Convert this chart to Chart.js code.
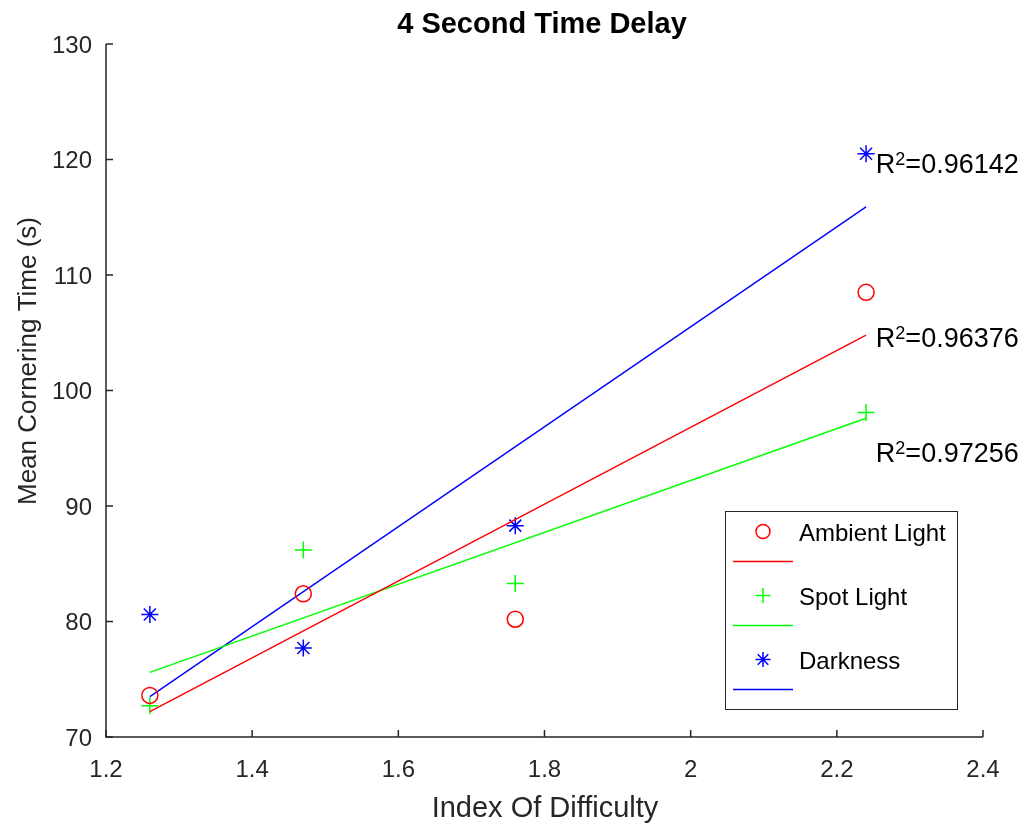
<!DOCTYPE html>
<html>
<head>
<meta charset="utf-8">
<script src="https://cdn.jsdelivr.net/npm/chart.js@4.4.1/dist/chart.umd.min.js"></script>
<style>
html,body{margin:0;padding:0;background:#fff;}
#wrap{width:1026px;height:826px;position:relative;}
</style>
</head>
<body>
<div id="wrap"><canvas id="c" width="1026" height="826"></canvas></div>
<script>
// ---- data ----
const indexOfDifficulty = [1.26, 1.47, 1.76, 2.24];
const ambientLight = [73.6, 82.4, 80.2, 108.5];
const spotLight = [72.7, 86.2, 83.3, 98.1];
const darkness = [80.6, 77.7, 88.3, 120.5];
// fitted line end points
const fitX = [1.26, 2.24];
const ambientFit = [72.2, 104.8];
const spotFit = [75.6, 97.6];
const darknessFit = [73.5, 115.9];
// R^2 labels (anchor = left edge / baseline, in data units)
const r2Labels = ['0.96142', '0.96376', '0.97256'];
const r2LabelX = [2.2534, 2.2534, 2.2534];
const r2LabelY = [118.8, 103.8, 93.8];
const xTicks = [1.2, 1.4, 1.6, 1.8, 2, 2.2, 2.4];
const xTickLabels = ['1.2', '1.4', '1.6', '1.8', '2', '2.2', '2.4'];
const yTicks = [70, 80, 90, 100, 110, 120, 130];
const yTickLabels = ['70', '80', '90', '100', '110', '120', '130'];
const legendLabels = ['Ambient Light', 'Spot Light', 'Darkness'];

const RED = '#ff0000', GREEN = '#00ff00', BLUE = '#0000ff';
const AX = '#262626';
const FONT = '"Liberation Sans", Arial, Helvetica, sans-serif';

const pts = (xs, ys) => xs.map((x, i) => ({x: x, y: ys[i]}));

const datasets = [
  {label: 'Ambient Light', type: 'scatter', data: pts(indexOfDifficulty, ambientLight), pointStyle: 'circle', pointRadius: 8, borderColor: RED, backgroundColor: 'rgba(0,0,0,0)', pointBorderWidth: 1.5, showLine: false},
  {label: 'Ambient fit', type: 'line', data: pts(fitX, ambientFit), borderColor: RED, borderWidth: 1.4, pointRadius: 0, fill: false},
  {label: 'Spot Light', type: 'scatter', data: pts(indexOfDifficulty, spotLight), pointStyle: 'cross', pointRadius: 8.5, borderColor: GREEN, backgroundColor: GREEN, pointBorderWidth: 1.5, showLine: false},
  {label: 'Spot fit', type: 'line', data: pts(fitX, spotFit), borderColor: GREEN, borderWidth: 1.4, pointRadius: 0, fill: false},
  {label: 'Darkness', type: 'scatter', data: pts(indexOfDifficulty, darkness), pointStyle: 'star', pointRadius: 8.5, borderColor: BLUE, backgroundColor: BLUE, pointBorderWidth: 1.5, showLine: false},
  {label: 'Darkness fit', type: 'line', data: pts(fitX, darknessFit), borderColor: BLUE, borderWidth: 1.4, pointRadius: 0, fill: false}
];

const decor = {
  id: 'decor',
  afterDraw(chart) {
    const ctx = chart.ctx;
    const xs = chart.scales.x, ys = chart.scales.y;
    const a = chart.chartArea;
    ctx.save();
    // axes lines
    ctx.strokeStyle = AX; ctx.lineWidth = 1.5;
    ctx.beginPath();
    ctx.moveTo(a.left, a.top); ctx.lineTo(a.left, a.bottom); ctx.lineTo(a.right, a.bottom);
    ctx.stroke();
    // inward ticks
    ctx.beginPath();
    xTicks.forEach(v => { const px = xs.getPixelForValue(v); ctx.moveTo(px, a.bottom); ctx.lineTo(px, a.bottom - 7); });
    yTicks.forEach(v => { const py = ys.getPixelForValue(v); ctx.moveTo(a.left, py); ctx.lineTo(a.left + 7, py); });
    ctx.stroke();
    // tick labels
    ctx.fillStyle = AX;
    ctx.font = '24px ' + FONT;
    ctx.textAlign = 'center'; ctx.textBaseline = 'alphabetic';
    xTicks.forEach((v, i) => ctx.fillText(xTickLabels[i], xs.getPixelForValue(v), a.bottom + 40));
    ctx.textAlign = 'right';
    yTicks.forEach((v, i) => ctx.fillText(yTickLabels[i], a.left - 14, ys.getPixelForValue(v) + 8.5));
    // axis titles
    ctx.font = '29px ' + FONT;
    ctx.textAlign = 'center'; ctx.textBaseline = 'alphabetic';
    ctx.fillText('Index Of Difficulty', 545, 817);
    ctx.save();
    ctx.font = '26px ' + FONT;
    ctx.translate(36, 361);
    ctx.rotate(-Math.PI / 2);
    ctx.fillText('Mean Cornering Time (s)', 0, 0);
    ctx.restore();
    // title
    ctx.fillStyle = '#000';
    ctx.font = 'bold 29px ' + FONT;
    ctx.textAlign = 'center';
    ctx.fillText('4 Second Time Delay', 542, 33);
    // R^2 labels
    r2Labels.forEach((t, i) => {
      let px = xs.getPixelForValue(r2LabelX[i]);
      const py = ys.getPixelForValue(r2LabelY[i]);
      ctx.textAlign = 'left'; ctx.textBaseline = 'alphabetic';
      ctx.fillStyle = '#000';
      ctx.font = '27px ' + FONT;
      ctx.fillText('R', px, py);
      px += ctx.measureText('R').width;
      ctx.font = '18px ' + FONT;
      ctx.fillText('2', px, py - 8);
      px += ctx.measureText('2').width;
      ctx.font = '27px ' + FONT;
      ctx.fillText('=' + t, px, py);
    });
    // legend box
    const lx = 725, ly = 511, lw = 232, lh = 198;
    ctx.fillStyle = '#fff';
    ctx.fillRect(lx, ly, lw, lh);
    ctx.strokeStyle = AX; ctx.lineWidth = 1;
    ctx.strokeRect(lx + 0.5, ly + 0.5, lw, lh);
    const colors = [RED, GREEN, BLUE];
    const styles = ['circle', 'cross', 'star'];
    legendLabels.forEach((lab, i) => {
      const cy = 531.5 + i * 64;
      ctx.strokeStyle = colors[i];
      ctx.fillStyle = i === 0 ? 'rgba(0,0,0,0)' : colors[i];
      ctx.lineWidth = 1.5;
      Chart.helpers.drawPoint(ctx, {pointStyle: styles[i], radius: i === 0 ? 7 : 7.5, borderWidth: 1.5, rotation: 0}, 763, cy);
      ctx.beginPath();
      ctx.moveTo(733, cy + 30); ctx.lineTo(793, cy + 30);
      ctx.stroke();
      ctx.fillStyle = '#000';
      ctx.font = '24px ' + FONT;
      ctx.textAlign = 'left'; ctx.textBaseline = 'alphabetic';
      ctx.fillText(lab, 799, cy + 9.5);
    });
    ctx.restore();
  }
};

new Chart(document.getElementById('c'), {
  type: 'scatter',
  data: {datasets: datasets},
  options: {
    responsive: false,
    animation: false,
    layout: {padding: {top: 44, right: 43, left: 0, bottom: 0}},
    plugins: {legend: {display: false}, tooltip: {enabled: false}, title: {display: false}},
    scales: {
      x: {
        type: 'linear', min: 1.2, max: 2.4,
        grid: {display: false}, border: {display: false},
        ticks: {display: false},
        afterFit(s) { s.height = 89; }
      },
      y: {
        type: 'linear', min: 70, max: 130,
        grid: {display: false}, border: {display: false},
        ticks: {display: false},
        afterFit(s) { s.width = 106; }
      }
    }
  },
  plugins: [decor]
});
</script>
</body>
</html>
